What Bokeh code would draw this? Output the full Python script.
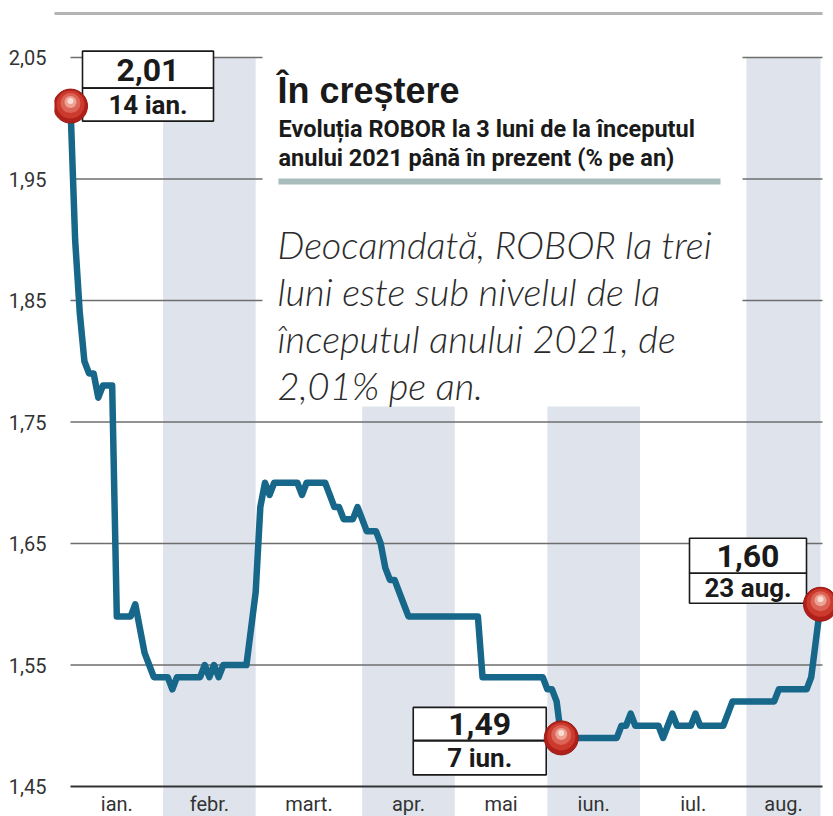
import numpy as np
from bokeh.plotting import figure
from bokeh.models import Range1d, FixedTicker, Label
from bokeh.core.properties import value
from bokeh.embed import file_html
from bokeh.resources import INLINE

# ---------------- data ----------------
months = ["ian.", "febr.", "mart.", "apr.", "mai", "iun.", "iul.", "aug."]
month_trading_days = [20, 20, 23, 20, 20, 20, 23, 16]
month_shaded = [False, True, False, True, False, True, False, True]

# ROBOR 3M, one value per trading day (14 ian. ... 23 aug. 2021), % pe an
robor = [
    2.01, 1.90, 1.84, 1.80, 1.79, 1.79, 1.77, 1.78, 1.78, 1.78,
    1.59, 1.59, 1.59, 1.59, 1.60, 1.58, 1.56, 1.55, 1.54, 1.54,
    1.54, 1.54, 1.53, 1.54, 1.54, 1.54, 1.54, 1.54, 1.54, 1.55,
    1.54, 1.55, 1.54, 1.55, 1.55, 1.55, 1.55, 1.55, 1.55, 1.58,
    1.61, 1.68, 1.70, 1.69, 1.70, 1.70, 1.70, 1.70, 1.70, 1.70,
    1.69, 1.70, 1.70, 1.70, 1.70, 1.70, 1.69, 1.68, 1.68, 1.67,
    1.67, 1.67, 1.68, 1.67, 1.66, 1.66, 1.66, 1.65, 1.63, 1.62,
    1.62, 1.61, 1.60, 1.59, 1.59, 1.59, 1.59, 1.59, 1.59, 1.59,
    1.59, 1.59, 1.59, 1.59, 1.59, 1.59, 1.59, 1.59, 1.59, 1.54,
    1.54, 1.54, 1.54, 1.54, 1.54, 1.54, 1.54, 1.54, 1.54, 1.54,
    1.54, 1.54, 1.54, 1.53, 1.53, 1.52, 1.49, 1.49, 1.49, 1.49,
    1.49, 1.49, 1.49, 1.49, 1.49, 1.49, 1.49, 1.49, 1.49, 1.50,
    1.50, 1.51, 1.50, 1.50, 1.50, 1.50, 1.50, 1.50, 1.49, 1.50,
    1.51, 1.50, 1.50, 1.50, 1.50, 1.51, 1.50, 1.50, 1.50, 1.50,
    1.50, 1.50, 1.51, 1.52, 1.52, 1.52, 1.52, 1.52, 1.52, 1.52,
    1.52, 1.52, 1.52, 1.53, 1.53, 1.53, 1.53, 1.53, 1.53, 1.53,
    1.54, 1.57, 1.60,
]
point_values = ["2,01", "1,49", "1,60"]
point_dates = ["14 ian.", "7 iun.", "23 aug."]

y_ticks = [1.45, 1.55, 1.65, 1.75, 1.85, 1.95, 2.05]
y_tick_labels = ["1,45", "1,55", "1,65", "1,75", "1,85", "1,95", "2,05"]

title = "În creștere"
subtitle = ["Evoluția ROBOR la 3 luni de la începutul",
            "anului 2021 până în prezent (% pe an)"]
note = ["Deocamdată, ROBOR la trei",
        "luni este sub nivelul de la",
        "începutul anului 2021, de",
        "2,01% pe an."]

# ---------------- geometry ----------------
W, H = 833, 816
BORDER_L = 54
PXX = 750 / 162.0          # px per trading day
PXY = 729 / 0.6            # px per percentage point
X0 = 70                    # page px of day 0
Y205 = 57                  # page px of 2.05

def rx(px):
    return (px - X0) / PXX

def ry(py):
    return 2.05 - (py - Y205) / PXY

days = np.arange(len(robor))
vals = np.array(robor)

p = figure(width=W, height=H, output_backend="svg", toolbar_location=None,
           x_axis_location=None, y_axis_location="left",
           x_range=Range1d(rx(BORDER_L), rx(W)), y_range=Range1d(ry(H), ry(0)),
           min_border_left=BORDER_L, min_border_right=0,
           min_border_top=0, min_border_bottom=0)
p.outline_line_color = None
p.grid.visible = False
p.background_fill_color = "white"
p.border_fill_color = "white"

# month bands
bounds = np.concatenate([[0], np.cumsum(month_trading_days)])
left = bounds[:-1]
right = bounds[1:]
sh = np.array(month_shaded)
p.quad(left=left[sh], right=right[sh], bottom=ry(840), top=2.05,
       fill_color="#dfe4ec", line_color=None)

# grid lines
grid_end = rx(822)
p.segment(x0=[0] * (len(y_ticks) - 1), x1=[grid_end] * (len(y_ticks) - 1),
          y0=y_ticks[1:], y1=y_ticks[1:], line_color="#6e6e6e", line_width=1.3)
p.segment(x0=[0], x1=[grid_end], y0=[y_ticks[0]], y1=[y_ticks[0]],
          line_color="#333333", line_width=2.2)

# top rule
p.segment(x0=[rx(0)], x1=[grid_end], y0=[ry(13)], y1=[ry(13)],
          line_color="#b4b4b4", line_width=3)

# white headline box
p.quad(left=[rx(262)], right=[rx(742)], top=[ry(45)], bottom=[ry(406)],
       fill_color="white", line_color=None)
p.quad(left=[rx(278)], right=[rx(720)], top=[ry(178)], bottom=[ry(184)],
       fill_color="#a9bcbc", line_color=None)

# the series
p.line(days, vals, line_color="#16678a", line_width=6.5,
       line_join="round", line_cap="round")

# annotated points: first, minimum, last
idx = [0, int(np.argmin(vals)), len(vals) - 1]
# box layout (px offsets from the point): dx, dy_top, dy_bottom, width, h_top, h_bottom
box_layout = [(77.5, -36.5, -1.5, 131, 37, 33),
              (-81.5, -14.0, 20.0, 133, 33, 34),
              (-72.5, -48.5, -16.0, 117, 35, 30)]
bx, by_t, by_b, bw, bh_t, bh_b = [], [], [], [], [], []
for i, (dx, dyt, dyb, w, ht, hb) in zip(idx, box_layout):
    bx.append(days[i] + dx / PXX)
    by_t.append(vals[i] - dyt / PXY)
    by_b.append(vals[i] - dyb / PXY)
    bw.append(w)
    bh_t.append(ht)
    bh_b.append(hb)
p.rect(x=bx + bx, y=by_t + by_b, width=bw + bw, height=bh_t + bh_b,
       width_units="screen", height_units="screen",
       fill_color="white", line_color="#1a1a1a", line_width=1.6)

px_ = [days[i] for i in idx]
py_ = [vals[i] for i in idx]
p.scatter(px_, py_, size=34, fill_color="#b0201a", line_color="#9a1812", line_width=1)
p.scatter(px_, [v + 1.5 / PXY for v in py_], size=28, fill_color="#cc3a2d", line_color=None)
p.scatter(px_, [v + 3 / PXY for v in py_], size=20, fill_color="#dc6456", line_color=None)
p.scatter(px_, [v + 4 / PXY for v in py_], size=12, fill_color="#eda293", line_color=None)
p.scatter(px_, [v + 5 / PXY for v in py_], size=6, fill_color="#f9dcd4", line_color=None)

for k in range(3):
    p.add_layout(Label(x=bx[k], y=by_t[k], text=point_values[k],
                       text_align="center", text_baseline="middle",
                       text_font="Roboto", text_font_style="bold",
                       text_font_size="32px", text_color="#1a1a1a"))
    p.add_layout(Label(x=bx[k], y=by_b[k], text=point_dates[k],
                       text_align="center", text_baseline="middle",
                       text_font="Roboto", text_font_style="bold",
                       text_font_size="26px", text_color="#1a1a1a"))

# month labels
centers = (left + right) / 2.0
p.text(x=centers, y=[1.45] * len(months), text=months, y_offset=17,
       text_align="center", text_baseline="middle",
       text_font=value("Roboto"), text_font_size="20px", text_color="#333333")

# headline texts
p.add_layout(Label(x=rx(277), y=ry(90), text=title, text_baseline="alphabetic",
                   text_font="Liberation Sans", text_font_style="bold",
                   text_font_size="36px", text_color="#1a1a1a"))
for j, line in enumerate(subtitle):
    p.add_layout(Label(x=rx(278), y=ry(128 + 29 * j), text=line,
                       text_baseline="alphabetic",
                       text_font="Roboto", text_font_style="bold",
                       text_font_size="23.5px", text_color="#1a1a1a"))
for j, line in enumerate(note):
    p.add_layout(Label(x=rx(277), y=ry(243 + 47 * j), text=line,
                       text_baseline="alphabetic",
                       text_font="Lato Light", text_font_style="italic",
                       text_font_size="38px", text_color="#2b2b2b"))

# y axis
ax = p.yaxis[0]
ax.ticker = FixedTicker(ticks=y_ticks)
ax.major_label_overrides = {t: l for t, l in zip(y_ticks, y_tick_labels)}
ax.axis_line_color = None
ax.major_tick_line_color = None
ax.minor_tick_line_color = None
ax.major_label_standoff = 2
ax.major_label_text_font = "Roboto"
ax.major_label_text_font_size = "20px"
ax.major_label_text_color = "#333333"

open("out.html", "w").write(file_html(p, INLINE))
